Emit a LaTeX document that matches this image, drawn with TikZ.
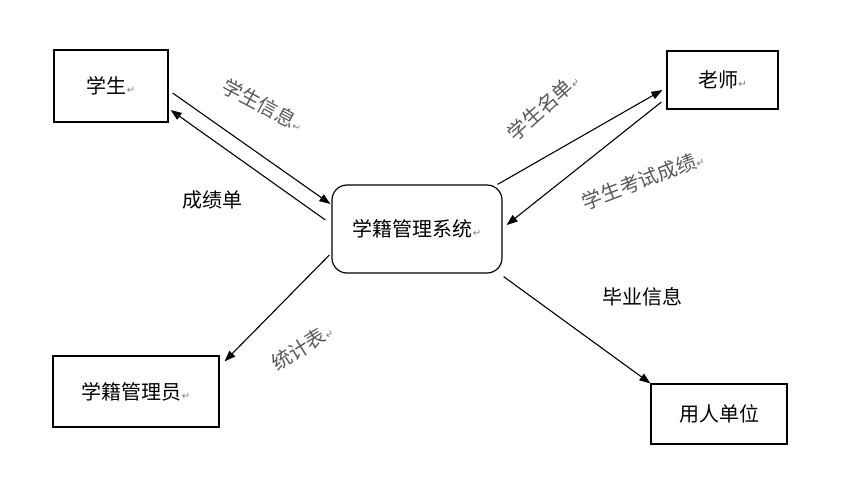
\documentclass[tikz,border=0pt]{standalone}
\usepackage{fontspec}
\setmainfont{Noto Sans CJK SC}
\newfontfamily\symfont{DejaVu Sans}
\usetikzlibrary{arrows.meta}
\newcommand{\retmark}{{\symfont\fontsize{10}{10}\selectfont\color{gray}↵}}
\tikzset{
  entity/.style={draw,line width=1.2pt,inner sep=0pt,font=\fontsize{20}{24}\selectfont},
  flow/.style={-{Triangle[length=11pt,width=8pt]},line width=1.1pt},
  flowtext/.style={font=\fontsize{20}{24}\selectfont,text=black!65},
  plaintext/.style={font=\fontsize{20}{24}\selectfont}
}
\begin{document}
\begin{tikzpicture}[x=1pt,y=-1pt]
  \useasboundingbox[fill=white] (0,0) rectangle (865,483);
  % entities
  \node[entity,minimum width=114pt,minimum height=72pt] (stu) at (111,86) {学生\retmark};
  \node[entity,minimum width=111pt,minimum height=58pt] (tea) at (722.5,80) {老师\retmark};
  \node[entity,rounded corners=15pt,minimum width=170pt,minimum height=88pt] (sys) at (417,229) {学籍管理系统\retmark};
  \node[entity,minimum width=166pt,minimum height=71pt] (adm) at (136,391.5) {学籍管理员\retmark};
  \node[entity,minimum width=136pt,minimum height=60pt] (emp) at (719,414) {用人单位};

  % data flows
  \draw[flow] ([xshift=4pt,yshift=-7pt]stu.east) -- ([xshift=-1pt,yshift=25pt]sys.west);
  \draw[flow] ([xshift=-6pt,yshift=9pt]sys.west) -- ([xshift=2pt,yshift=-24pt]stu.east);
  \draw[flow] ([xshift=-5pt]sys.north east) -- ([xshift=-4pt,yshift=-10pt]tea.west);
  \draw[flow] ([xshift=-5pt,yshift=-22pt]tea.west) -- ([xshift=4pt,yshift=4pt]sys.east);
  \draw[flow] ([xshift=-2pt,yshift=-26pt]sys.west) -- ([xshift=5pt,yshift=-6pt]adm.north east);
  \draw[flow] ([xshift=1pt,yshift=-3pt]sys.south east) -- (emp.north west);

  % labels
  \node[flowtext,rotate=-28] (l1) at (263,105) {学生信息\retmark};
  \node[plaintext] (l2) at (212,200) {成绩单};
  \node[flowtext,rotate=42] (l3) at (543,107) {学生名单\retmark};
  \node[flowtext,rotate=21] (l4) at (643,180) {学生考试成绩\retmark};
  \node[plaintext] (l5) at (642,297) {毕业信息};
  \node[flowtext,rotate=32] (l6) at (302,347) {统计表\retmark};
\end{tikzpicture}
\end{document}
